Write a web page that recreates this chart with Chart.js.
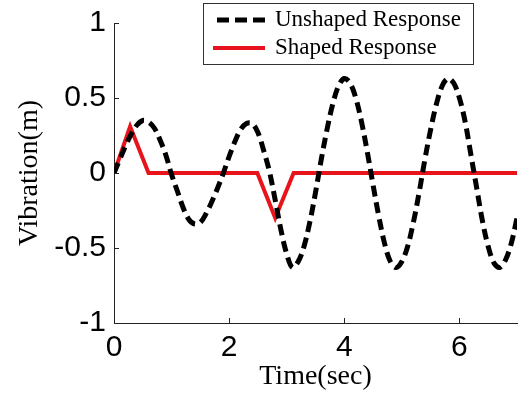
<!DOCTYPE html>
<html>
<head>
<meta charset="utf-8">
<script src="https://cdn.jsdelivr.net/npm/chart.js@4.4.1/dist/chart.umd.min.js"></script>
<style>
  html, body { margin: 0; padding: 0; background: #fff; }
</style>
</head>
<body>
<canvas id="chart" width="525" height="396"></canvas>
<script>
// time axis (sec) for the unshaped curve
const times = [
    0.0, 0.1, 0.2, 0.3, 0.4, 0.5, 0.6, 0.7, 0.8, 0.9,
    1.0, 1.1, 1.2, 1.3, 1.4, 1.5, 1.6, 1.7, 1.8, 1.9,
    2.0, 2.1, 2.2, 2.3, 2.4, 2.5, 2.6, 2.7, 2.8, 2.9,
    3.0, 3.1, 3.2, 3.3, 3.4, 3.5, 3.6, 3.7, 3.8, 3.9,
    4.0, 4.1, 4.2, 4.3, 4.4, 4.5, 4.6, 4.7, 4.8, 4.9,
    5.0, 5.1, 5.2, 5.3, 5.4, 5.5, 5.6, 5.7, 5.8, 5.9,
    6.0, 6.1, 6.2, 6.3, 6.4, 6.5, 6.6, 6.7, 6.8, 6.9,
    7.0
];
const unshaped = [
    0, 0.09, 0.18, 0.26, 0.32, 0.35, 0.34, 0.30, 0.22, 0.12,
    -0.01, -0.12, -0.23, -0.31, -0.34, -0.33, -0.27, -0.19, -0.10, 0.00,
    0.11, 0.21, 0.29, 0.33, 0.33, 0.27, 0.15, 0.01, -0.18, -0.38,
    -0.54, -0.63, -0.59, -0.49, -0.33, -0.13, 0.09, 0.29, 0.46, 0.58,
    0.63, 0.60, 0.50, 0.34, 0.14, -0.08, -0.29, -0.47, -0.59, -0.63,
    -0.59, -0.49, -0.33, -0.13, 0.09, 0.29, 0.46, 0.58, 0.63, 0.60,
    0.50, 0.34, 0.12, -0.10, -0.32, -0.49, -0.60, -0.63, -0.58, -0.47,
    -0.30
];
// shaped response corners
const shapedTimes = [0, 0.28, 0.6, 2.49, 2.8, 3.12, 7];
const shapedValues = [0, 0.31, 0, 0, -0.30, 0, 0];

const xTicks = [0, 2, 4, 6];
const yTicks = [-1, -0.5, 0, 0.5, 1];
const seriesNames = ['Unshaped Response', 'Shaped Response'];

const black = '#000000';
const red = '#e8141b';
const sansFont = "'Liberation Sans', Arial, sans-serif";
const serifFont = "'Liberation Serif', 'Times New Roman', serif";

const toPoints = (xs, ys) => xs.map((x, i) => ({x: x, y: ys[i]}));

// inward tick marks + boxed legend, MATLAB style
const matlabBits = {
    id: 'matlabBits',
    afterDraw(chart) {
        const {ctx, chartArea: a, scales: {x, y}} = chart;
        ctx.save();
        ctx.strokeStyle = '#222';
        ctx.lineWidth = 1;
        ctx.beginPath();
        xTicks.forEach(v => {
            const px = Math.round(x.getPixelForValue(v)) + 0.5;
            ctx.moveTo(px, a.bottom);
            ctx.lineTo(px, a.bottom - 5);
        });
        yTicks.forEach(v => {
            const py = Math.round(y.getPixelForValue(v)) + 0.5;
            ctx.moveTo(a.left, py);
            ctx.lineTo(a.left + 5, py);
        });
        ctx.stroke();

        // legend
        const box = {left: 203, top: 3, width: 270, height: 61};
        ctx.fillStyle = '#fff';
        ctx.fillRect(box.left, box.top, box.width, box.height);
        ctx.strokeStyle = '#333';
        ctx.strokeRect(box.left + 0.5, box.top + 0.5, box.width, box.height);

        const rows = [box.top + 17, box.top + 45];
        ctx.lineCap = 'butt';
        ctx.lineWidth = 5;
        ctx.strokeStyle = black;
        ctx.setLineDash([12, 6]);
        ctx.beginPath();
        ctx.moveTo(217, rows[0]);
        ctx.lineTo(265, rows[0]);
        ctx.stroke();
        ctx.setLineDash([]);
        ctx.lineWidth = 4;
        ctx.strokeStyle = red;
        ctx.beginPath();
        ctx.moveTo(213, rows[1]);
        ctx.lineTo(265, rows[1]);
        ctx.stroke();

        ctx.fillStyle = black;
        ctx.font = '23px ' + serifFont;
        ctx.textBaseline = 'middle';
        ctx.textAlign = 'left';
        ctx.fillText(seriesNames[0], 275, rows[0]);
        ctx.fillText(seriesNames[1], 275, rows[1]);
        ctx.restore();
    }
};

new Chart(document.getElementById('chart'), {
    type: 'line',
    data: {
        datasets: [{
            label: seriesNames[0],
            data: toPoints(times, unshaped),
            borderColor: black,
            borderWidth: 5,
            borderDash: [11, 6],
            pointRadius: 0,
            tension: 0.35,
            fill: false,
        }, {
            label: seriesNames[1],
            data: toPoints(shapedTimes, shapedValues),
            borderColor: red,
            borderWidth: 4,
            pointRadius: 0,
            tension: 0,
            fill: false,
        }]
    },
    options: {
        responsive: false,
        animation: false,
        devicePixelRatio: 1,
        layout: {
            padding: {top: 23, right: 8, left: 0, bottom: 0}
        },
        scales: {
            x: {
                type: 'linear',
                min: 0,
                max: 7,
                afterBuildTicks: (scale) => {
                    scale.ticks = xTicks.map(v => ({value: v}));
                },
                afterFit: (scale) => {
                    scale.height = 73;
                },
                grid: {display: false},
                border: {display: true, color: '#222', width: 1},
                ticks: {
                    color: black,
                    padding: -1,
                    maxRotation: 0,
                    font: {family: sansFont, size: 30},
                },
                title: {
                    display: true,
                    text: 'Time(sec)',
                    color: black,
                    font: {family: serifFont, size: 28},
                    padding: {top: 0, bottom: 3},
                }
            },
            y: {
                min: -1,
                max: 1,
                afterBuildTicks: (scale) => {
                    scale.ticks = yTicks.map(v => ({value: v}));
                },
                afterFit: (scale) => {
                    scale.width = 114;
                },
                grid: {display: false},
                border: {display: true, color: '#222', width: 1},
                ticks: {
                    color: black,
                    padding: 0,
                    font: {family: sansFont, size: 30},
                    callback: (v) => String(v),
                },
                title: {
                    display: true,
                    text: 'Vibration(m)',
                    color: black,
                    font: {family: serifFont, size: 28},
                    padding: {top: 13, bottom: 0},
                }
            }
        },
        plugins: {
            legend: {display: false},
            tooltip: {enabled: false}
        }
    },
    plugins: [matlabBits]
});
</script>
</body>
</html>
